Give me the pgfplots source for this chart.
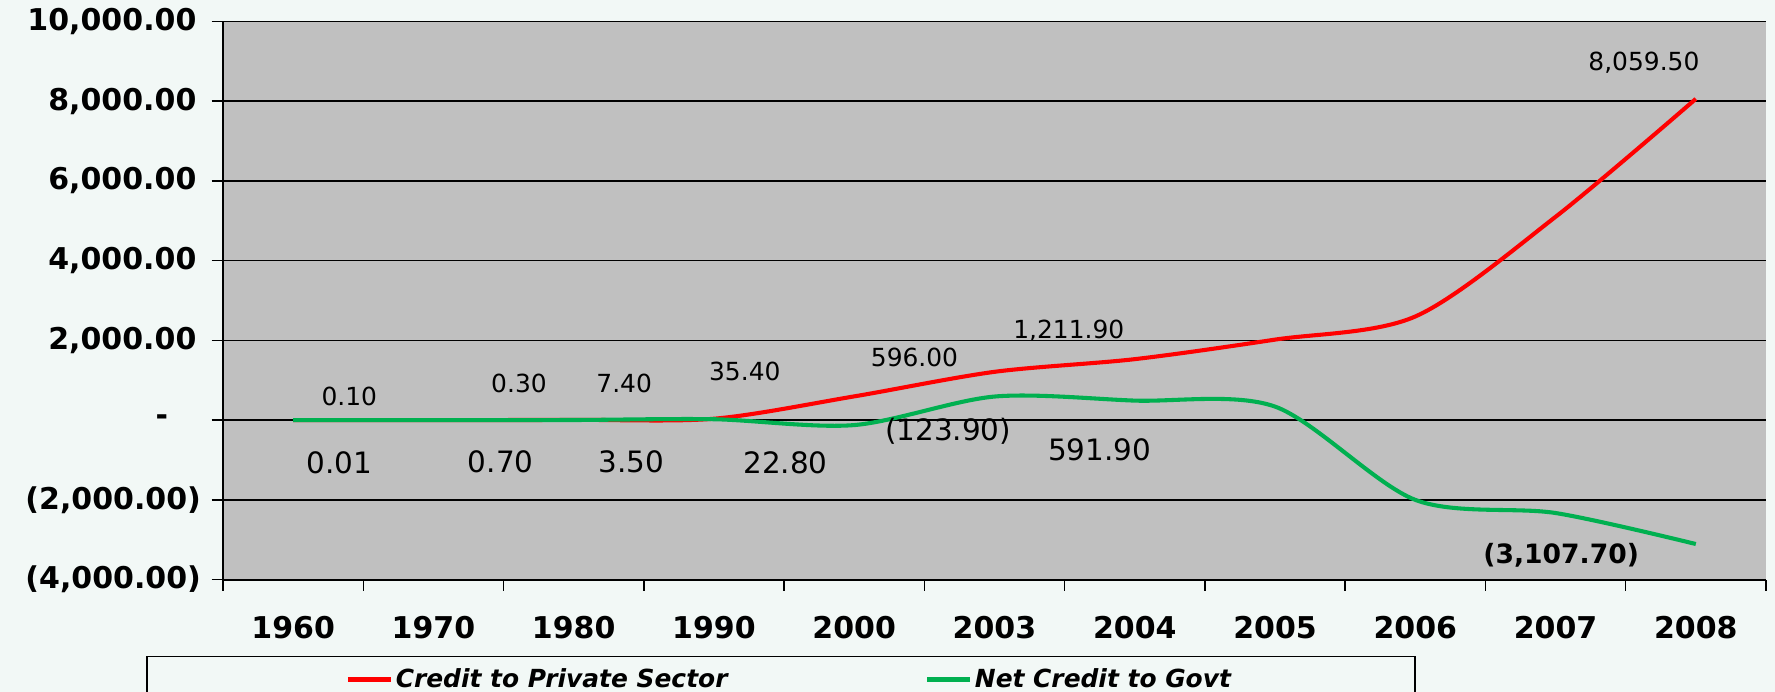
\documentclass[border=0pt]{standalone}
\usepackage{fontspec}
\setmainfont{DejaVu Sans}
\usepackage{pgfplots}
\pgfplotsset{compat=1.18}

\definecolor{bgmint}{RGB}{242,248,246}
\definecolor{plotgray}{RGB}{192,192,192}
\definecolor{credred}{RGB}{255,0,0}
\definecolor{govgreen}{RGB}{0,176,80}

\newcommand{\redlab}{\fontsize{22}{26}\selectfont}
\newcommand{\greenlab}{\fontsize{26}{30}\selectfont}

\begin{document}
\begin{tikzpicture}
\useasboundingbox (0,0) rectangle (1568pt,611pt);
\clip (0,0) rectangle (1568pt,611pt);
\fill[bgmint] (0,0) rectangle (1568pt,611pt);
% legend frame, running off the lower edge
\draw[black, line width=1.5pt, fill=bgmint] (130pt,31pt) rectangle (1250pt,-20pt);
\begin{axis}[
  at={(197pt,99pt)}, anchor=south west,
  width=1363pt, height=493pt, scale only axis,
  xmin=-0.5, xmax=10.5, ymin=-4000, ymax=10000,
  scaled y ticks=false,
  axis background/.style={fill=plotgray},
  axis x line*=bottom, axis y line*=left,
  axis line style={line width=1.8pt, black},
  tick align=outside,
  major tick length=10pt,
  tick style={line width=1.3pt, black},
  xtick={-0.5,0.5,...,10.5},
  xticklabels={},
  extra x ticks={0,1,2,3,4,5,6,7,8,9,10},
  extra x tick labels={1960,1970,1980,1990,2000,2003,2004,2005,2006,2007,2008},
  extra x tick style={major tick length=0pt, grid=none},
  xticklabel style={font=\fontsize{26.5}{30}\selectfont\bfseries, yshift=-29pt},
  ytick={-4000,-2000,0,2000,4000,6000,8000,10000},
  yticklabels={{(4,000.00)},{(2,000.00)},{-\hspace*{29pt}},{2,000.00\hspace*{4pt}},{4,000.00\hspace*{4pt}},{6,000.00\hspace*{4pt}},{8,000.00\hspace*{4pt}},{10,000.00\hspace*{4pt}}},
  yticklabel style={font=\fontsize{26.5}{30}\selectfont\bfseries, xshift=-6pt},
  ymajorgrids,
  grid style={black, line width=1.3pt},
  legend columns=2,
  legend style={at={(axis description cs:0.0792,-0.1785)}, anchor=west,
    draw=none, fill=none, inner sep=0pt,
    font=\fontsize{22}{26}\selectfont\bfseries\itshape,
    nodes={inner sep=2pt},
    /tikz/every even column/.append style={column sep=172pt}},
  legend image code/.code={\draw[#1, line width=4.5pt] (0pt,0pt) -- (38pt,0pt);},
  clip=false,
]
\addplot[credred, line width=3.6pt, smooth] coordinates {
  (0,0.10) (1,0.30) (2,7.40) (3,35.40) (4,596.00) (5,1211.90)
  (6,1530) (7,2020) (8,2600) (9,5100) (10,8059.50)};
\addlegendentry{Credit to Private Sector}
\addplot[govgreen, line width=3.6pt, smooth] coordinates {
  (0,0.01) (1,0.70) (2,3.50) (3,22.80) (4,-123.90) (5,591.90)
  (6,490) (7,340) (8,-2000) (9,-2330) (10,-3107.70)};
\addlegendentry{Net Credit to Govt}

% data labels, credit to private sector
\node[font=\redlab] at (axis cs:0.40,596) {0.10};
\node[font=\redlab] at (axis cs:1.61,909) {0.30};
\node[font=\redlab] at (axis cs:2.36,909) {7.40};
\node[font=\redlab] at (axis cs:3.22,1221) {35.40};
\node[font=\redlab] at (axis cs:4.43,1562) {596.00};
\node[font=\redlab] at (axis cs:5.53,2244) {1,211.90};
\node[font=\redlab] at (axis cs:9.63,8974) {8,059.50};
% data labels, net credit to government
\node[font=\greenlab] at (axis cs:0.33,-1079) {0.01};
\node[font=\greenlab] at (axis cs:1.48,-1051) {0.70};
\node[font=\greenlab] at (axis cs:2.41,-1051) {3.50};
\node[font=\greenlab] at (axis cs:3.51,-1079) {22.80};
\node[font=\greenlab] at (axis cs:4.67,-284) {(123.90)};
\node[font=\greenlab] at (axis cs:5.75,-738) {591.90};
\node[font=\fontsize{23.5}{27}\selectfont\bfseries] at (axis cs:9.04,-3380) {(3,107.70)};
\end{axis}
\end{tikzpicture}
\end{document}
